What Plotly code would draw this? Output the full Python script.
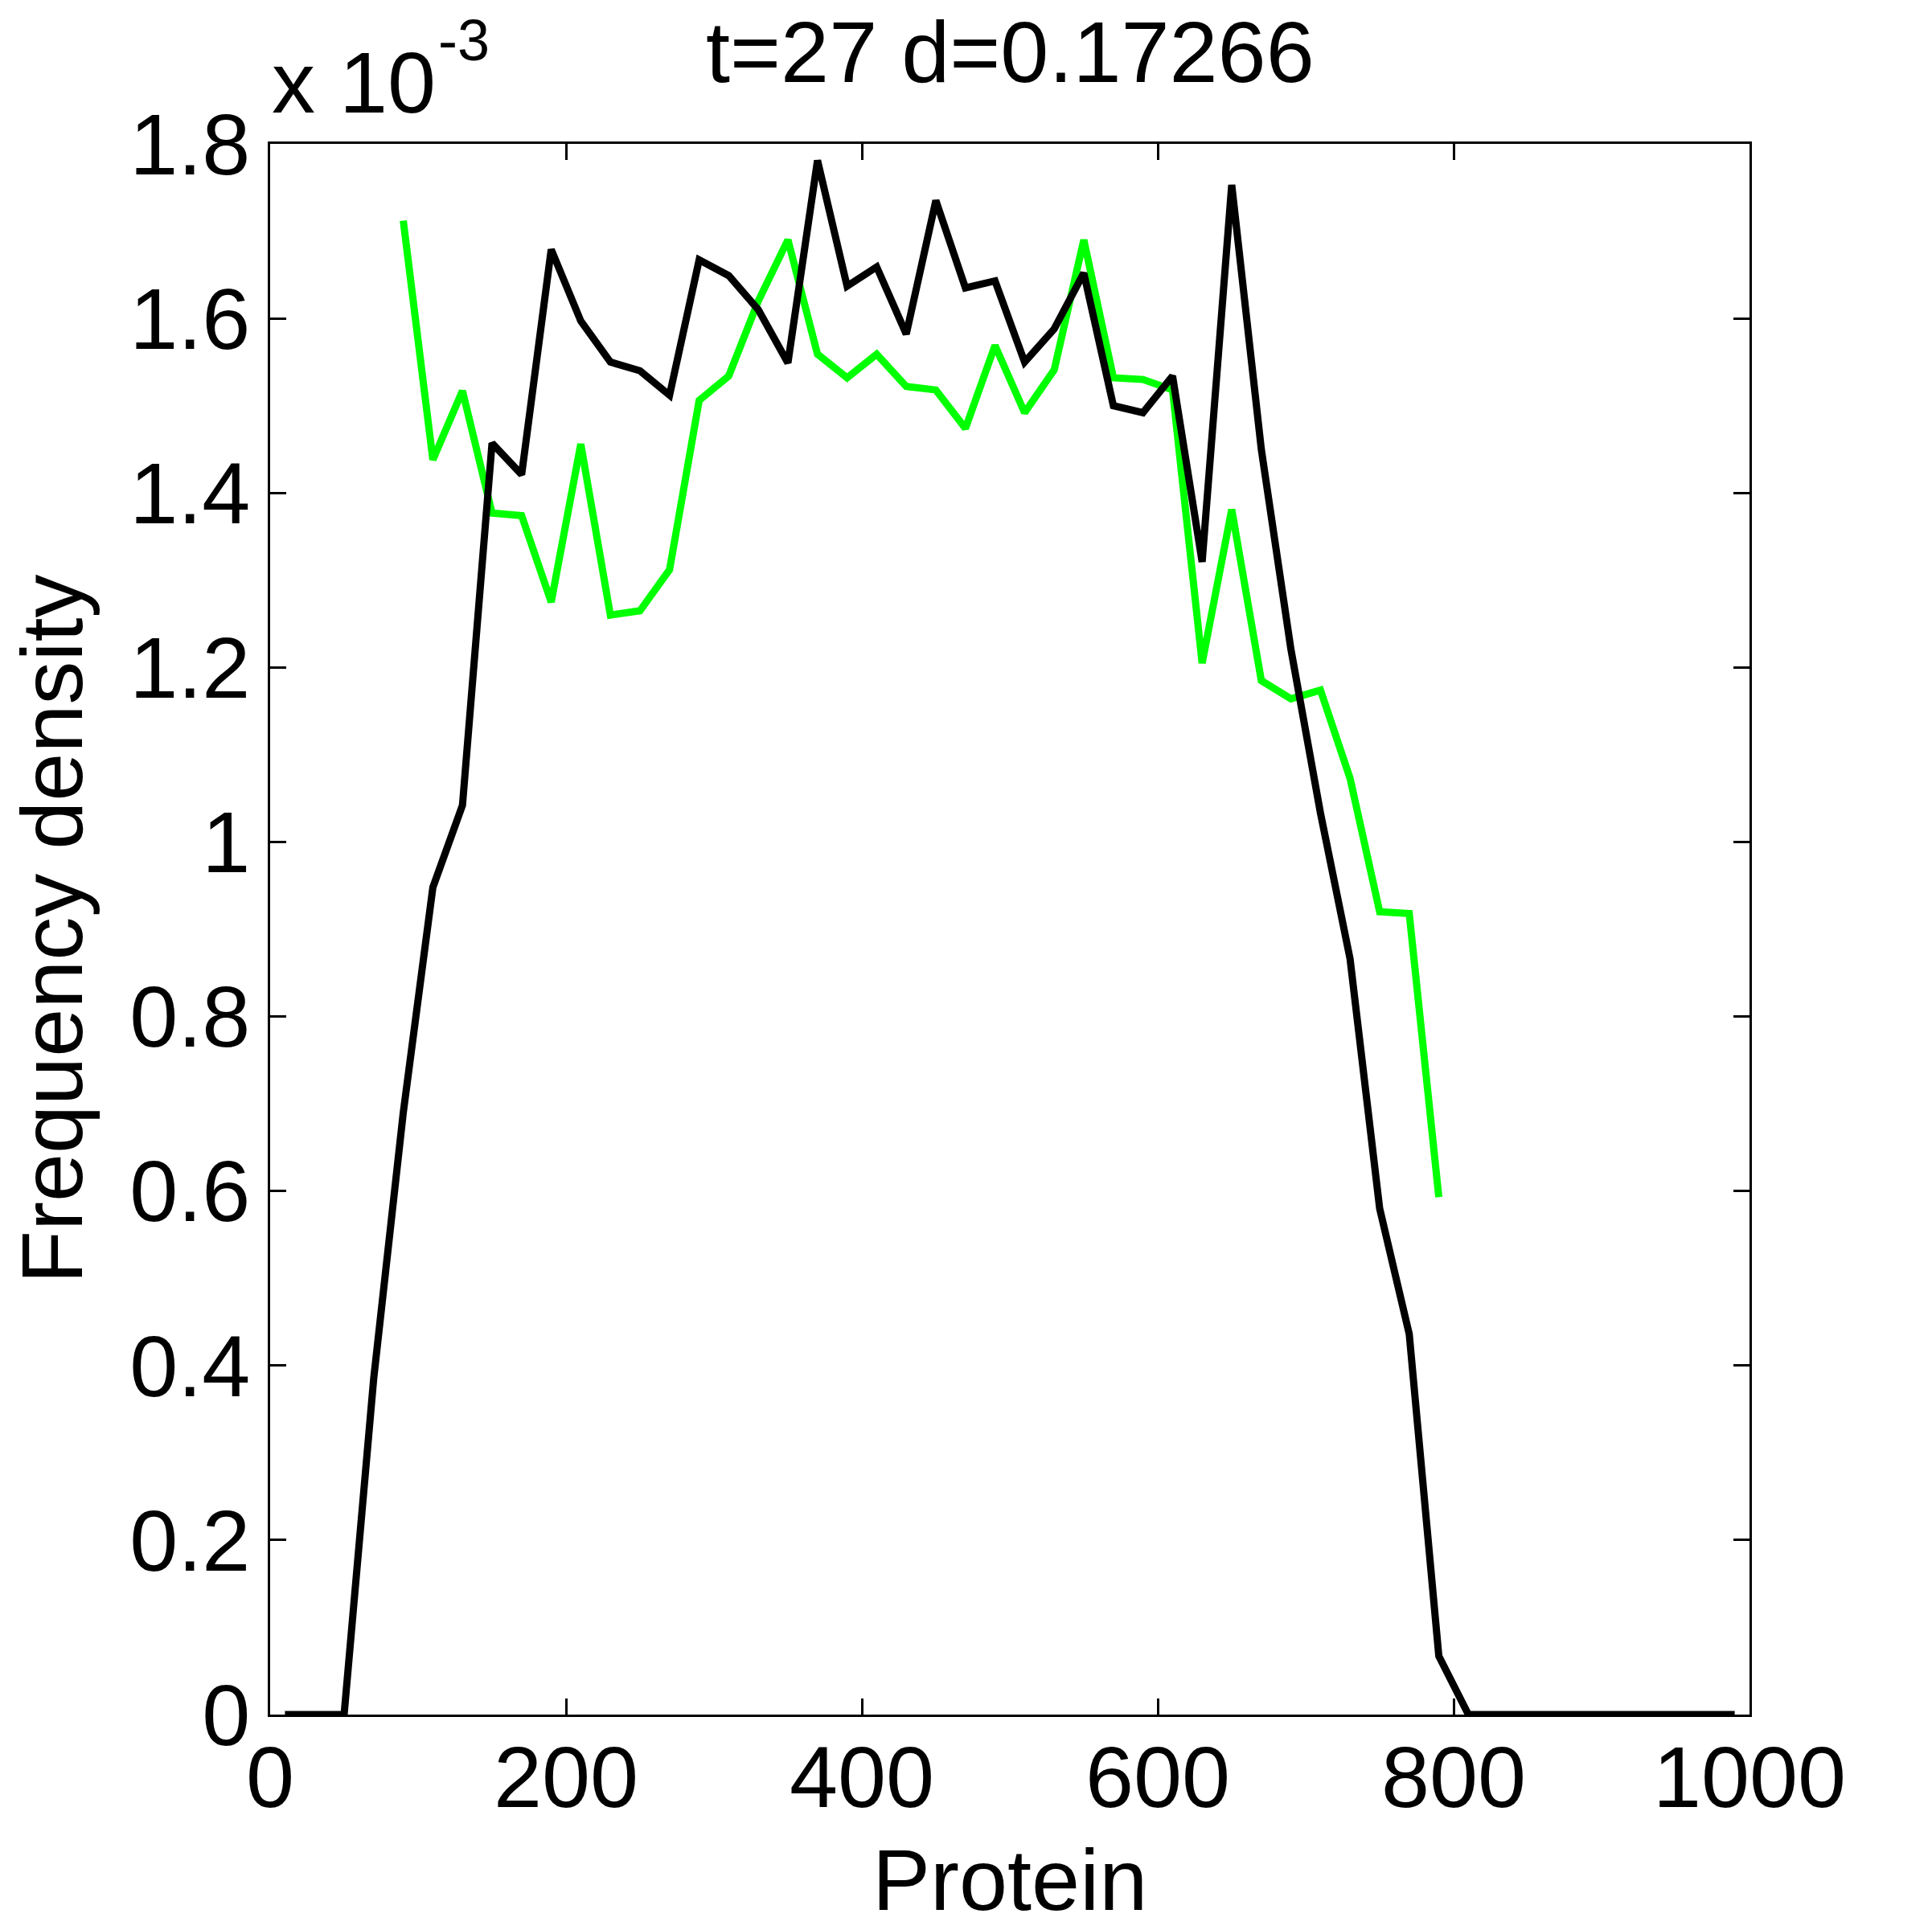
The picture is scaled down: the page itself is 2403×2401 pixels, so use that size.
import numpy as np
import plotly.graph_objects as go

# ---- data (values in units of 1e-3) ----
protein_black = [10, 30, 50, 70, 90, 110, 130, 150, 170, 190, 210, 230, 250, 270, 290,
                 310, 330, 350, 370, 390, 410, 430, 450, 470, 490, 510, 530, 550, 570,
                 590, 610, 630, 650, 670, 690, 710, 730, 750, 770, 790, 810, 830, 850,
                 870, 890, 910, 930, 950, 970, 990]
density_black = [0, 0, 0, 0.385, 0.69, 0.948, 1.042, 1.457, 1.421, 1.679, 1.597, 1.550,
                 1.540, 1.512, 1.667, 1.649, 1.610, 1.549, 1.781, 1.637, 1.659, 1.582,
                 1.735, 1.635, 1.643, 1.550, 1.588, 1.652, 1.500, 1.492, 1.534, 1.321,
                 1.753, 1.450, 1.221, 1.033, 0.866, 0.580, 0.436, 0.067, 0, 0, 0, 0, 0,
                 0, 0, 0, 0, 0]

protein_green = [90, 110, 130, 150, 170, 190, 210, 230, 250, 270, 290, 310, 330, 350,
                 370, 390, 410, 430, 450, 470, 490, 510, 530, 550, 570, 590, 610, 630,
                 650, 670, 690, 710, 730, 750, 770, 790]
density_green = [1.712, 1.438, 1.517, 1.377, 1.374, 1.275, 1.456, 1.260, 1.265, 1.312,
                 1.506, 1.534, 1.62, 1.690, 1.559, 1.532, 1.559, 1.522, 1.518, 1.474,
                 1.569, 1.492, 1.541, 1.690, 1.532, 1.530, 1.518, 1.205, 1.381, 1.185,
                 1.164, 1.174, 1.073, 0.920, 0.918, 0.593]

x_ticks = [0, 200, 400, 600, 800, 1000]
y_ticks = [0, 0.2, 0.4, 0.6, 0.8, 1.0, 1.2, 1.4, 1.6, 1.8]
y_ticktext = ["0", "0.2", "0.4", "0.6", "0.8", "1", "1.2", "1.4", "1.6", "1.8"]
scale = 1e-3

title_text = "t=27 d=0.17266"
xlabel = "Protein"
ylabel = "Frequency density"
mult_base = "x 10"
mult_exp = "-3"

FONT = "Liberation Sans, Arial, Helvetica, sans-serif"
FS = 108

fig = go.Figure()
fig.add_trace(go.Scatter(x=protein_green, y=np.array(density_green) * scale,
                         mode="lines", line=dict(color="#00ff00", width=9),
                         showlegend=False))
fig.add_trace(go.Scatter(x=protein_black, y=np.array(density_black) * scale,
                         mode="lines", line=dict(color="#000000", width=9),
                         showlegend=False))

L, R, T, B = 336, 2176, 179, 2133
W, H = 2403, 2401
fig.update_layout(
    width=W, height=H, autosize=False,
    margin=dict(l=L, r=W - R, t=T, b=H - B, pad=0),
    paper_bgcolor="white", plot_bgcolor="white",
    font=dict(family=FONT, size=FS, color="black"),
    showlegend=False,
)
fig.update_xaxes(range=[0, 1000], tickvals=x_ticks, ticks="inside", ticklen=20,
                 tickwidth=3, tickcolor="black", showline=True, linewidth=3,
                 linecolor="black", mirror="ticks", showgrid=False, zeroline=False,
                 ticklabelstandoff=-18,
                 tickfont=dict(family=FONT, size=FS, color="black"))
fig.update_yaxes(range=[0, 1.8 * scale], tickvals=[v * scale for v in y_ticks],
                 ticktext=y_ticktext, ticks="inside", ticklen=20, tickwidth=3,
                 tickcolor="black", showline=True, linewidth=3, linecolor="black",
                 mirror="ticks", showgrid=False, zeroline=False,
                 tickfont=dict(family=FONT, size=FS, color="black"))

ph = B - T
pw = R - L
fig.add_annotation(text=title_text, xref="paper", yref="paper", x=0.5,
                   y=1 + (T - 64) / ph, xanchor="center", yanchor="middle",
                   showarrow=False, font=dict(family=FONT, size=FS, color="black"))
fig.add_annotation(text=mult_base, xref="paper", yref="paper", x=0,
                   y=1 + (T - 165) / ph, xanchor="left", yanchor="bottom",
                   showarrow=False, font=dict(family=FONT, size=FS, color="black"))
fig.add_annotation(text=mult_exp, xref="paper", yref="paper", x=(543 - L) / pw,
                   y=1 + (T - 92) / ph, xanchor="left", yanchor="bottom",
                   showarrow=False, font=dict(family=FONT, size=72, color="black"))
fig.add_annotation(text=xlabel, xref="paper", yref="paper", x=0.5,
                   y=-(2338 - B) / ph, xanchor="center", yanchor="middle",
                   showarrow=False, font=dict(family=FONT, size=FS, color="black"))
fig.add_annotation(text=ylabel, xref="paper", yref="paper", x=-(L - 64) / pw,
                   y=0.5, xanchor="center", yanchor="middle", textangle=-90,
                   showarrow=False, font=dict(family=FONT, size=FS, color="black"))

fig.write_html("out.html")
